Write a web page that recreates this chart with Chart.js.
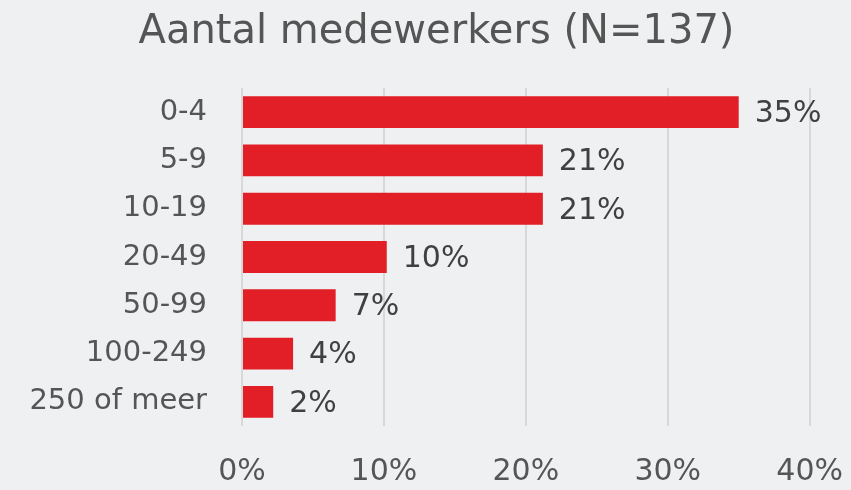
<!DOCTYPE html>
<html>
<head>
<meta charset="utf-8">
<script src="https://cdn.jsdelivr.net/npm/chart.js@4.4.0/dist/chart.umd.min.js"></script>
<style>
  html, body { margin: 0; padding: 0; background: #eef0f1; }
  #wrap { width: 851px; height: 490px; }
</style>
</head>
<body>
<div id="wrap"><canvas id="myChart"></canvas></div>
<script>
const categories = ['0-4', '5-9', '10-19', '20-49', '50-99', '100-249', '250 of meer'];
const percentages = [35.0, 21.2, 21.2, 10.2, 6.6, 3.6, 2.2];
const valueLabels = ['35%', '21%', '21%', '10%', '7%', '4%', '2%'];
const xTicks = [0, 10, 20, 30, 40];

const fontFamily = '"DejaVu Sans", sans-serif';

// draws the percentage next to each bar
const barLabels = {
    id: 'barLabels',
    afterDatasetsDraw(chart) {
        const ctx = chart.ctx;
        const meta = chart.getDatasetMeta(0);
        ctx.save();
        ctx.font = '30px ' + fontFamily;
        ctx.fillStyle = '#404040';
        ctx.textAlign = 'left';
        ctx.textBaseline = 'middle';
        meta.data.forEach((bar, i) => {
            ctx.fillText(valueLabels[i], bar.x + 16, bar.y + 2);
        });
        ctx.restore();
    }
};

const ctx = document.getElementById('myChart').getContext('2d');
new Chart(ctx, {
    type: 'bar',
    data: {
        labels: categories,
        datasets: [{
            data: percentages,
            backgroundColor: '#e21f26',
            borderWidth: 0,
            barPercentage: 0.66,
            categoryPercentage: 1.0
        }]
    },
    plugins: [barLabels],
    options: {
        indexAxis: 'y',
        responsive: true,
        maintainAspectRatio: false,
        animation: false,
        layout: {
            padding: { left: 22, right: 0, top: 0, bottom: 0 }
        },
        plugins: {
            legend: { display: false },
            tooltip: { enabled: false },
            title: {
                display: true,
                text: 'Aantal medewerkers (N=137)',
                color: '#555555',
                font: { family: fontFamily, size: 40, weight: 'normal' },
                padding: { top: 9, bottom: 31 }
            }
        },
        scales: {
            x: {
                min: 0,
                max: 40,
                afterBuildTicks: scale => {
                    scale.ticks = xTicks.map(v => ({ value: v }));
                },
                afterFit: scale => { scale.height = 64; },
                grid: { color: '#d8d8d8', lineWidth: 2, drawTicks: false },
                border: { display: false },
                ticks: {
                    color: '#555555',
                    padding: 8,
                    maxRotation: 0,
                    font: { family: fontFamily, size: 30, lineHeight: 2.53 },
                    callback: v => v + '%'
                }
            },
            y: {
                grid: { display: false, drawTicks: false },
                border: { display: false },
                afterFit: scale => { scale.width = 220; },
                ticks: {
                    color: '#555555',
                    padding: 35,
                    font: { family: fontFamily, size: 29 }
                }
            }
        }
    }
});
</script>
</body>
</html>
